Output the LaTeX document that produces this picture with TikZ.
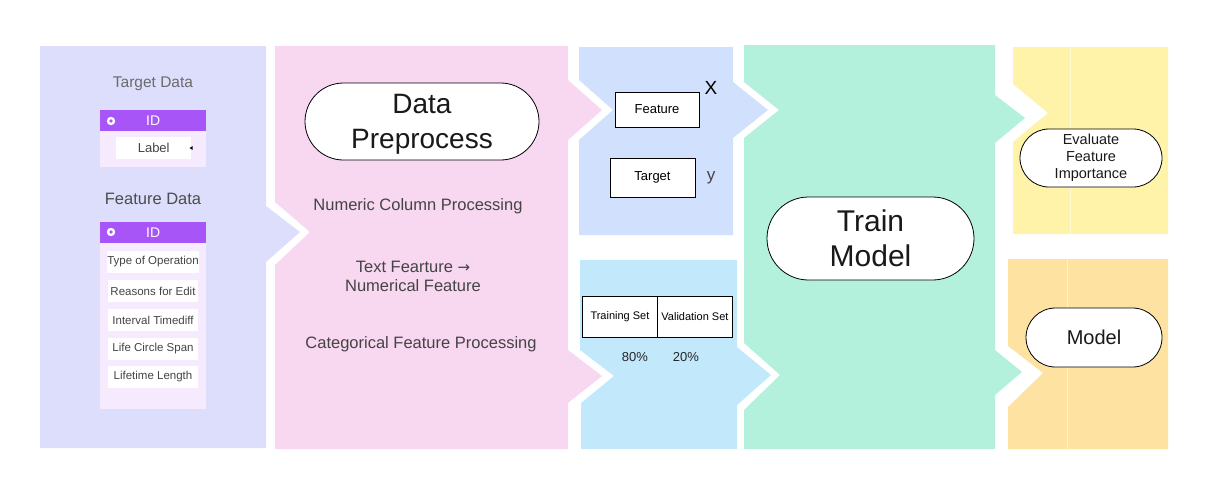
\documentclass[tikz,border=0pt]{standalone}
\usepackage{fontspec}
\setmainfont{Liberation Sans}
\newfontfamily\symfont{DejaVu Sans}
\definecolor{lav}{HTML}{DDDEFC}
\definecolor{pinkp}{HTML}{F8D7F0}
\definecolor{bluet}{HTML}{D1E0FC}
\definecolor{blueb}{HTML}{C2E8FC}
\definecolor{greenp}{HTML}{B3F1DC}
\definecolor{yellowp}{HTML}{FEF3A8}
\definecolor{orangep}{HTML}{FEE2A2}
\definecolor{purp}{HTML}{A855F7}
\definecolor{purbody}{HTML}{F5EAFE}
\definecolor{txtgray}{HTML}{444444}
\newcommand{\fsz}[2]{\fontsize{#1}{#2}\selectfont}
\begin{document}
\begin{tikzpicture}[x=1pt,y=-1pt,
  stadium/.style={draw=black, line width=0.8pt, fill=white, rounded corners=#1, align=center, inner sep=0pt, text=black!90},
  boxw/.style={draw=black, line width=0.9pt, fill=white, inner sep=0pt},
  item/.style={fill=white, minimum width=90pt, minimum height=22pt, inner sep=0pt, text=txtgray, font=\fsz{11.5}{13}},
  head/.style={fill=purp, minimum width=106pt, minimum height=21pt, inner sep=0pt, text=white, font=\fsz{14}{16}},
  plain/.style={text=txtgray, align=center, inner sep=0pt},
  seam/.style={draw=white, opacity=0.5, line width=0.6pt}]
\useasboundingbox (0,0) rectangle (1218,491);
% panels
\fill[lav] (40,46) -- (266,46) -- (266,206) -- (300,232) -- (266,262) -- (266,448) -- (40,448) -- cycle;
\fill[pinkp] (275,46) -- (568,46) -- (568,80) -- (602,110) -- (568,140) -- (568,350) -- (602,376) -- (568,403) -- (568,449) -- (275,449) -- (275,265) -- (310,232) -- (275,202) -- cycle;
\fill[bluet] (579,47) -- (733,47) -- (733,82) -- (768,110) -- (733,138) -- (733,235) -- (579,235) -- (579,140) -- (613,110) -- (579,80) -- cycle;
\fill[blueb] (580,260) -- (737,260) -- (737,347) -- (771,375) -- (737,405) -- (737,449) -- (581,449) -- (581,403) -- (614,376) -- (580,350) -- cycle;
\fill[greenp] (744,45) -- (995,45) -- (995,95) -- (1025,118) -- (995,143) -- (995,350) -- (1022,372) -- (995,395) -- (995,449) -- (744,449) -- (744,410) -- (780,375) -- (744,343) -- (744,138) -- (779,110) -- (744,82) -- cycle;
\fill[yellowp] (1013,47) -- (1168,47) -- (1168,234) -- (1013,234) -- (1013,142) -- (1048,113) -- (1013,84) -- cycle;
\fill[orangep] (1008,259) -- (1168,259) -- (1168,449) -- (1008,449) -- (1008,407) -- (1043,373) -- (1008,346) -- cycle;
\draw[seam] (1070,47) -- (1070,234);
\draw[seam] (1067,259) -- (1067,449);
% left panel
\node[text=black!58, font=\fsz{15.5}{18}, inner sep=0pt] (tdata) at (153,84) {Target Data};
\fill[purbody] (100,131) rectangle (206,167);
\node[head, anchor=north west] (thead) at (100,110) {ID};
\fill[white] (111,121) circle (4.2pt);
\fill[purp] (111,121) circle (1.8pt);
\node[fill=white, minimum width=75pt, minimum height=22pt, inner sep=0pt, text=txtgray, font=\fsz{13}{15}, anchor=north west] (label) at (116,137) {Label};
\fill[black] (189.5,148) -- (192.5,146.2) -- (192.5,149.8) -- cycle;
\node[text=black!70, font=\fsz{16.5}{19}, inner sep=0pt] (fdata) at (153,199) {Feature Data};
\fill[purbody] (100,242) rectangle (206,409);
\node[head, anchor=north west] (fhead) at (100,222) {ID};
\fill[white] (111,232) circle (4.2pt);
\fill[purp] (111,232) circle (1.8pt);
\node[item] (f1) at (153,262) {Type of Operation};
\node[item] (f2) at (153,291) {Reasons for Edit};
\node[item] (f3) at (153,320) {Interval Timediff};
\node[item] (f4) at (153,349) {Life Circle Span};
\node[item] (f5) at (153,377) {Lifetime Length};
% pink panel
\node[stadium=38.5pt, minimum width=234pt, minimum height=77pt, text depth=0pt, font=\fsz{28}{35}] (dp) at (422,121.5) {Data\\Preprocess};
\node[plain, font=\fsz{16.5}{19}] (num) at (418,206) {Numeric Column Processing};
\node[plain, font=\fsz{16.5}{19}] (txt) at (413,276) {Text Fearture {\symfont\fsz{15}{19}→}\\Numerical Feature};
\node[plain, font=\fsz{16.5}{19}] (cat) at (421,344) {Categorical Feature Processing};
% top blue
\node[boxw, minimum width=84pt, minimum height=35pt, font=\fsz{13}{15}] (feat) at (657,109.5) {Feature};
\node[inner sep=0pt, font=\fsz{19}{21}, text=black] (xlab) at (711,88) {X};
\node[boxw, minimum width=85pt, minimum height=39pt, font=\fsz{13}{15}] (targ) at (652.5,177.5) {Target};
\node[inner sep=0pt, font=\fsz{17}{19}, text=txtgray] (ylab) at (711,178) {y};
% bottom blue
\node[boxw, minimum width=75pt, minimum height=41pt, font=\fsz{11}{13}, anchor=north west] (train) at (582,296) {Training Set};
\node[boxw, minimum width=75pt, minimum height=41pt, font=\fsz{11}{13}, anchor=north west] (val) at (657,296) {Validation Set};
\node[inner sep=0pt, font=\fsz{13}{15}, text=black!85] (p80) at (635,357) {80\%};
\node[inner sep=0pt, font=\fsz{13}{15}, text=black!85] (p20) at (686,357) {20\%};
% green
\node[stadium=41.5pt, minimum width=207pt, minimum height=83pt, text depth=0pt, font=\fsz{30}{35}] (tm) at (870.5,238.5) {Train\\Model};
% right
\node[stadium=29pt, minimum width=142pt, minimum height=58pt, font=\fsz{14.5}{17}] (ev) at (1091,158) {Evaluate\\Feature\\Importance};
\node[stadium=29.5pt, minimum width=136pt, minimum height=59pt, font=\fsz{20}{22}] (mod) at (1094,337.5) {Model};
\end{tikzpicture}
\end{document}
